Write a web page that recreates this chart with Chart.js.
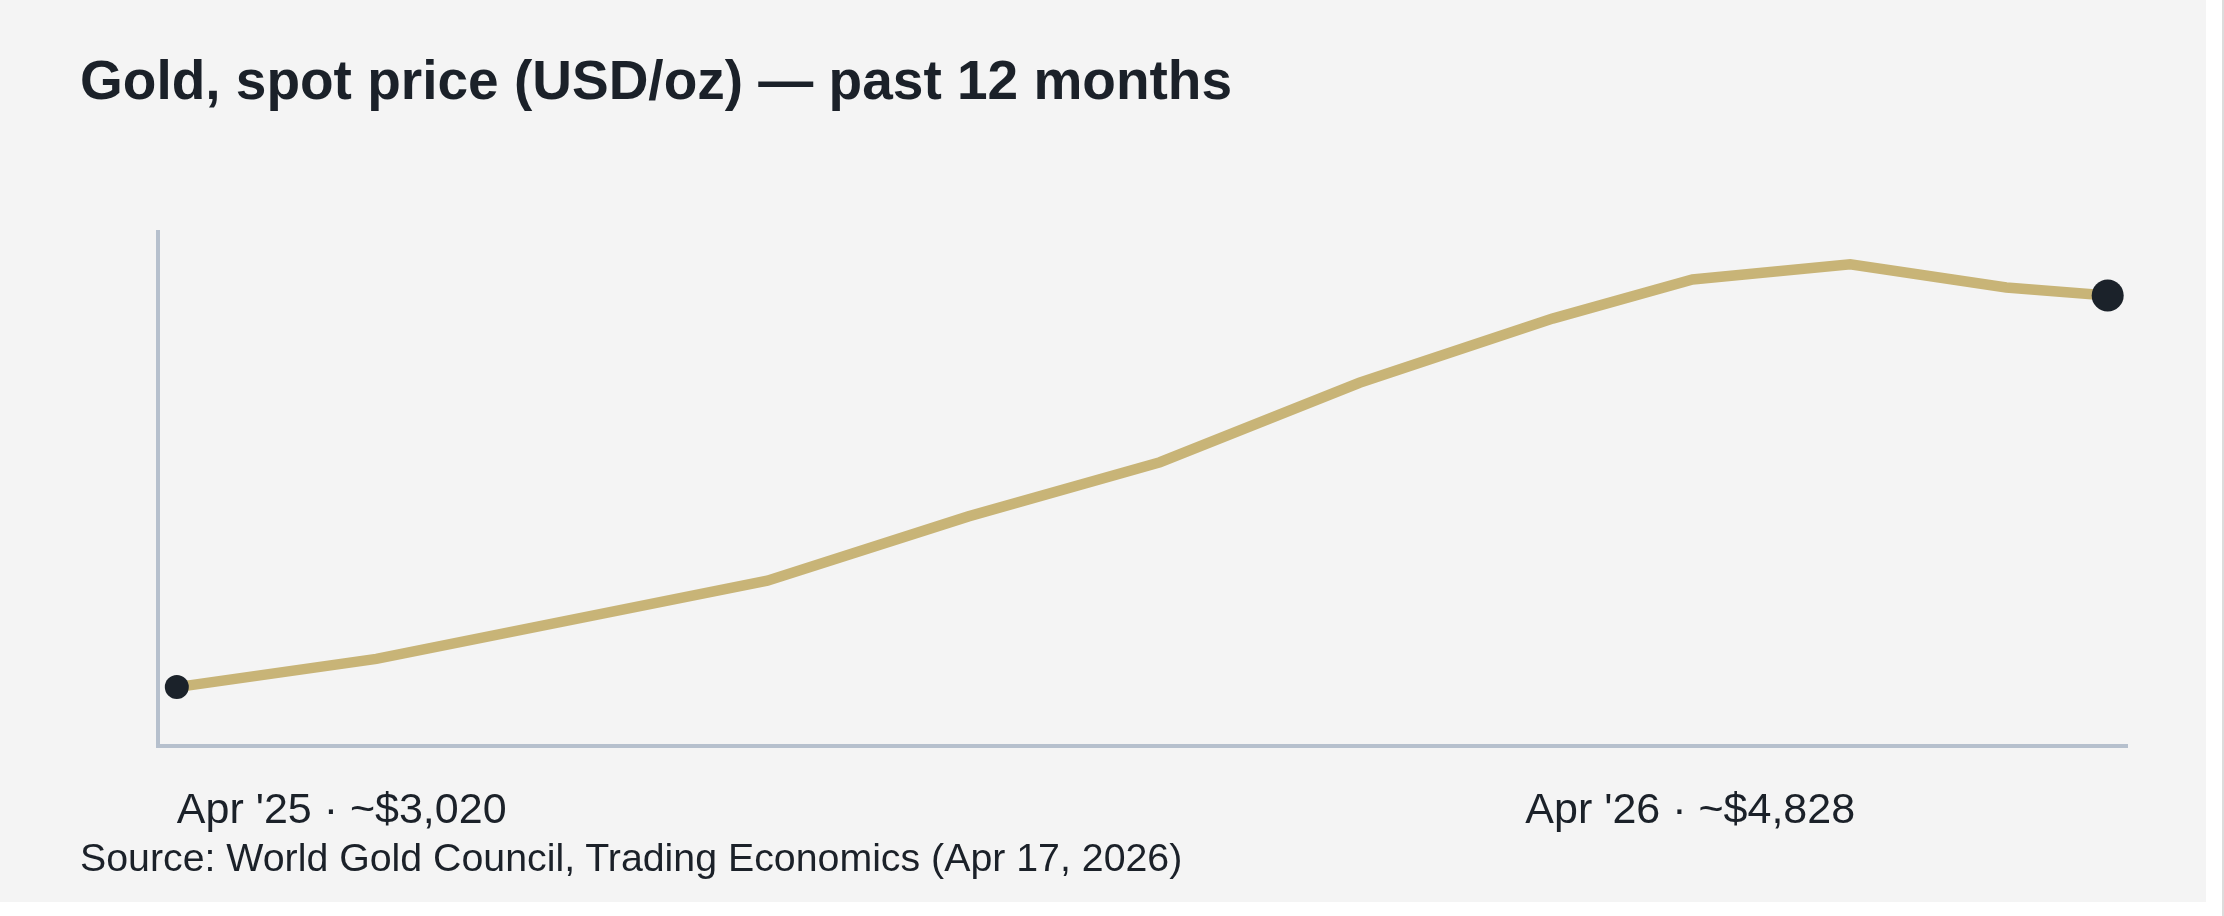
<!DOCTYPE html>
<html>
<head>
<meta charset="utf-8">
<script src="https://cdn.jsdelivr.net/npm/chart.js@4/dist/chart.umd.min.js"></script>
<style>
  html, body { margin: 0; padding: 0; background: #ffffff; }
  body { width: 2224px; height: 916px; overflow: hidden; position: relative; font-family: "Liberation Sans", Arial, Helvetica, sans-serif; }
  #panel { position: absolute; left: 0; top: 0; width: 2206px; height: 902px; background: #f4f4f4; }
  #edge { position: absolute; left: 2222px; top: 0; width: 2px; height: 916px; background: #dcdcdc; }
  #title { position: absolute; left: 80px; top: 53px; font-size: 55px; line-height: 55px; font-weight: bold; color: #1b2129; white-space: nowrap; }
  #source { position: absolute; left: 80px; top: 838px; font-size: 39.3px; line-height: 39.3px; color: #1b2129; white-space: nowrap; }
  #chart { position: absolute; left: 0; top: 0; }
</style>
</head>
<body>
<div id="panel">
  <canvas id="chart" width="2206" height="902"></canvas>
  <div id="title">Gold, spot price (USD/oz) — past 12 months</div>
  <div id="source">Source: World Gold Council, Trading Economics (Apr 17, 2026)</div>
</div>
<div id="edge"></div>
<script>
// Months elapsed since Apr '25
const monthsElapsed = [0, 1.24, 3.67, 4.92, 6.11, 7.35, 8.55, 9.42, 10.40, 11.37, 12];
// Gold spot price, USD/oz
const goldPrice = [3020, 3150, 3511, 3808, 4058, 4425, 4721, 4902, 4972, 4865, 4828];
// X-axis tick values (months) and their labels
const tickValues = [0, 10.43];
const tickLabels = ["Apr '25 · ~$3,020", "Apr '26 · ~$4,828"];

const points = monthsElapsed.map((m, i) => ({ x: m, y: goldPrice[i] }));
const lastIndex = goldPrice.length - 1;

new Chart(document.getElementById('chart'), {
  type: 'line',
  data: {
    datasets: [{
      data: points,
      borderColor: '#c8b477',
      borderWidth: 10.5,
      tension: 0,
      fill: false,
      pointRadius: (ctx) => ctx.dataIndex === 0 ? 12 : (ctx.dataIndex === lastIndex ? 16 : 0),
      pointHoverRadius: (ctx) => ctx.dataIndex === 0 ? 12 : (ctx.dataIndex === lastIndex ? 16 : 0),
      pointBackgroundColor: '#1b222a',
      pointBorderWidth: 0,
      clip: false
    }]
  },
  options: {
    responsive: false,
    devicePixelRatio: 1,
    animation: false,
    events: [],
    layout: { padding: { left: 157.5, top: 232, right: 79, bottom: 26.4 } },
    plugins: { legend: { display: false }, tooltip: { enabled: false }, title: { display: false } },
    scales: {
      x: {
        type: 'linear',
        min: -0.12,
        max: 12.12,
        grid: { display: false, drawTicks: false },
        border: { display: true, color: '#b6c0cd', width: 4 },
        afterBuildTicks: (axis) => { axis.ticks = tickValues.map(v => ({ value: v })); },
        ticks: {
          autoSkip: false,
          maxRotation: 0,
          align: 'inner',
          padding: 39,
          color: '#1b2129',
          font: { family: '"Liberation Sans", Arial, Helvetica, sans-serif', size: 43 },
          callback: (value, index) => tickLabels[index]
        }
      },
      y: {
        type: 'linear',
        min: 2748,
        max: 5121,
        grid: { display: false, drawTicks: false },
        border: { display: true, color: '#b6c0cd', width: 4 },
        ticks: { display: false }
      }
    }
  }
});
</script>
</body>
</html>
